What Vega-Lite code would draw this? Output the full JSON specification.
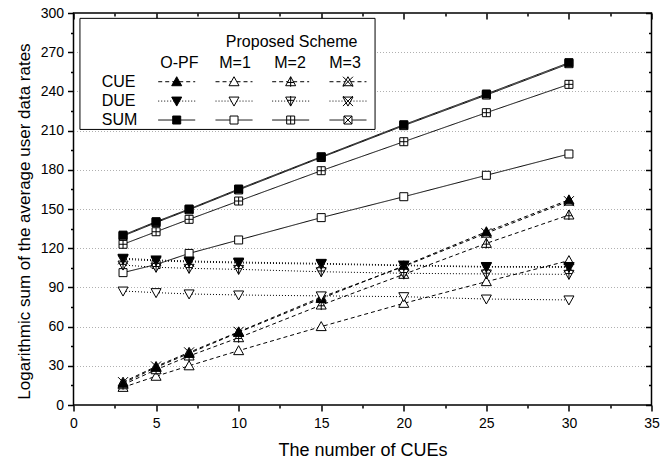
{
  "$schema": "https://vega.github.io/schema/vega-lite/v6.json",
  "width": 578,
  "height": 392,
  "autosize": {"type": "none"},
  "padding": {"left": 73.5, "top": 13, "right": 8.5, "bottom": 61},
  "background": "white",
  "config": {
    "font": "Liberation Sans",
    "view": {"stroke": "black", "strokeWidth": 1.5},
    "axis": {"labelColor": "black", "titleColor": "black", "tickColor": "black", "titleFontWeight": "normal", "labelFontSize": 14, "titleFontSize": 18, "domain": false}
  },
  "datasets": {
    "series": [
      {"x": 3, "type": "SUM", "scheme": "M=1", "series": "SUM M=1", "y": 101.3},
      {"x": 5, "type": "SUM", "scheme": "M=1", "series": "SUM M=1", "y": 107.5},
      {"x": 7, "type": "SUM", "scheme": "M=1", "series": "SUM M=1", "y": 116},
      {"x": 10, "type": "SUM", "scheme": "M=1", "series": "SUM M=1", "y": 126.3},
      {"x": 15, "type": "SUM", "scheme": "M=1", "series": "SUM M=1", "y": 143.4},
      {"x": 20, "type": "SUM", "scheme": "M=1", "series": "SUM M=1", "y": 159.4},
      {"x": 25, "type": "SUM", "scheme": "M=1", "series": "SUM M=1", "y": 175.8},
      {"x": 30, "type": "SUM", "scheme": "M=1", "series": "SUM M=1", "y": 192.1},
      {"x": 3, "type": "SUM", "scheme": "M=2", "series": "SUM M=2", "y": 123},
      {"x": 5, "type": "SUM", "scheme": "M=2", "series": "SUM M=2", "y": 132.6},
      {"x": 7, "type": "SUM", "scheme": "M=2", "series": "SUM M=2", "y": 142.1},
      {"x": 10, "type": "SUM", "scheme": "M=2", "series": "SUM M=2", "y": 156.1},
      {"x": 15, "type": "SUM", "scheme": "M=2", "series": "SUM M=2", "y": 179.3},
      {"x": 20, "type": "SUM", "scheme": "M=2", "series": "SUM M=2", "y": 201.5},
      {"x": 25, "type": "SUM", "scheme": "M=2", "series": "SUM M=2", "y": 223.7},
      {"x": 30, "type": "SUM", "scheme": "M=2", "series": "SUM M=2", "y": 245.4},
      {"x": 3, "type": "SUM", "scheme": "M=3", "series": "SUM M=3", "y": 129.3},
      {"x": 5, "type": "SUM", "scheme": "M=3", "series": "SUM M=3", "y": 139.6},
      {"x": 7, "type": "SUM", "scheme": "M=3", "series": "SUM M=3", "y": 149.4},
      {"x": 10, "type": "SUM", "scheme": "M=3", "series": "SUM M=3", "y": 164.6},
      {"x": 15, "type": "SUM", "scheme": "M=3", "series": "SUM M=3", "y": 189.4},
      {"x": 20, "type": "SUM", "scheme": "M=3", "series": "SUM M=3", "y": 213.8},
      {"x": 25, "type": "SUM", "scheme": "M=3", "series": "SUM M=3", "y": 237.2},
      {"x": 30, "type": "SUM", "scheme": "M=3", "series": "SUM M=3", "y": 261.2},
      {"x": 3, "type": "SUM", "scheme": "O-PF", "series": "SUM O-PF", "y": 130},
      {"x": 5, "type": "SUM", "scheme": "O-PF", "series": "SUM O-PF", "y": 140.3},
      {"x": 7, "type": "SUM", "scheme": "O-PF", "series": "SUM O-PF", "y": 150},
      {"x": 10, "type": "SUM", "scheme": "O-PF", "series": "SUM O-PF", "y": 165.3},
      {"x": 15, "type": "SUM", "scheme": "O-PF", "series": "SUM O-PF", "y": 190},
      {"x": 20, "type": "SUM", "scheme": "O-PF", "series": "SUM O-PF", "y": 214.5},
      {"x": 25, "type": "SUM", "scheme": "O-PF", "series": "SUM O-PF", "y": 238},
      {"x": 30, "type": "SUM", "scheme": "O-PF", "series": "SUM O-PF", "y": 262},
      {"x": 3, "type": "CUE", "scheme": "M=1", "series": "CUE M=1", "y": 13.5},
      {"x": 5, "type": "CUE", "scheme": "M=1", "series": "CUE M=1", "y": 22},
      {"x": 7, "type": "CUE", "scheme": "M=1", "series": "CUE M=1", "y": 30},
      {"x": 10, "type": "CUE", "scheme": "M=1", "series": "CUE M=1", "y": 41.6},
      {"x": 15, "type": "CUE", "scheme": "M=1", "series": "CUE M=1", "y": 60},
      {"x": 20, "type": "CUE", "scheme": "M=1", "series": "CUE M=1", "y": 77.8},
      {"x": 25, "type": "CUE", "scheme": "M=1", "series": "CUE M=1", "y": 94.4},
      {"x": 30, "type": "CUE", "scheme": "M=1", "series": "CUE M=1", "y": 110.5},
      {"x": 3, "type": "CUE", "scheme": "M=2", "series": "CUE M=2", "y": 15.5},
      {"x": 5, "type": "CUE", "scheme": "M=2", "series": "CUE M=2", "y": 27},
      {"x": 7, "type": "CUE", "scheme": "M=2", "series": "CUE M=2", "y": 37.5},
      {"x": 10, "type": "CUE", "scheme": "M=2", "series": "CUE M=2", "y": 51.5},
      {"x": 15, "type": "CUE", "scheme": "M=2", "series": "CUE M=2", "y": 76.5},
      {"x": 20, "type": "CUE", "scheme": "M=2", "series": "CUE M=2", "y": 100},
      {"x": 25, "type": "CUE", "scheme": "M=2", "series": "CUE M=2", "y": 123.7},
      {"x": 30, "type": "CUE", "scheme": "M=2", "series": "CUE M=2", "y": 145.4},
      {"x": 3, "type": "CUE", "scheme": "M=3", "series": "CUE M=3", "y": 17.5},
      {"x": 5, "type": "CUE", "scheme": "M=3", "series": "CUE M=3", "y": 29.5},
      {"x": 7, "type": "CUE", "scheme": "M=3", "series": "CUE M=3", "y": 40.3},
      {"x": 10, "type": "CUE", "scheme": "M=3", "series": "CUE M=3", "y": 56},
      {"x": 15, "type": "CUE", "scheme": "M=3", "series": "CUE M=3", "y": 82.5},
      {"x": 20, "type": "CUE", "scheme": "M=3", "series": "CUE M=3", "y": 106},
      {"x": 25, "type": "CUE", "scheme": "M=3", "series": "CUE M=3", "y": 131.5},
      {"x": 30, "type": "CUE", "scheme": "M=3", "series": "CUE M=3", "y": 156},
      {"x": 3, "type": "CUE", "scheme": "O-PF", "series": "CUE O-PF", "y": 16.6},
      {"x": 5, "type": "CUE", "scheme": "O-PF", "series": "CUE O-PF", "y": 28.8},
      {"x": 7, "type": "CUE", "scheme": "O-PF", "series": "CUE O-PF", "y": 39.5},
      {"x": 10, "type": "CUE", "scheme": "O-PF", "series": "CUE O-PF", "y": 55.6},
      {"x": 15, "type": "CUE", "scheme": "O-PF", "series": "CUE O-PF", "y": 81.5},
      {"x": 20, "type": "CUE", "scheme": "O-PF", "series": "CUE O-PF", "y": 106.5},
      {"x": 25, "type": "CUE", "scheme": "O-PF", "series": "CUE O-PF", "y": 132.6},
      {"x": 30, "type": "CUE", "scheme": "O-PF", "series": "CUE O-PF", "y": 157},
      {"x": 3, "type": "DUE", "scheme": "M=1", "series": "DUE M=1", "y": 87.2},
      {"x": 5, "type": "DUE", "scheme": "M=1", "series": "DUE M=1", "y": 86},
      {"x": 7, "type": "DUE", "scheme": "M=1", "series": "DUE M=1", "y": 85},
      {"x": 10, "type": "DUE", "scheme": "M=1", "series": "DUE M=1", "y": 84.2},
      {"x": 15, "type": "DUE", "scheme": "M=1", "series": "DUE M=1", "y": 83.5},
      {"x": 20, "type": "DUE", "scheme": "M=1", "series": "DUE M=1", "y": 82.9},
      {"x": 25, "type": "DUE", "scheme": "M=1", "series": "DUE M=1", "y": 81.1},
      {"x": 30, "type": "DUE", "scheme": "M=1", "series": "DUE M=1", "y": 80.4},
      {"x": 3, "type": "DUE", "scheme": "M=2", "series": "DUE M=2", "y": 107.1},
      {"x": 5, "type": "DUE", "scheme": "M=2", "series": "DUE M=2", "y": 105.4},
      {"x": 7, "type": "DUE", "scheme": "M=2", "series": "DUE M=2", "y": 104.6},
      {"x": 10, "type": "DUE", "scheme": "M=2", "series": "DUE M=2", "y": 103.8},
      {"x": 15, "type": "DUE", "scheme": "M=2", "series": "DUE M=2", "y": 102},
      {"x": 20, "type": "DUE", "scheme": "M=2", "series": "DUE M=2", "y": 100.8},
      {"x": 25, "type": "DUE", "scheme": "M=2", "series": "DUE M=2", "y": 100.3},
      {"x": 30, "type": "DUE", "scheme": "M=2", "series": "DUE M=2", "y": 100},
      {"x": 3, "type": "DUE", "scheme": "M=3", "series": "DUE M=3", "y": 111.5},
      {"x": 5, "type": "DUE", "scheme": "M=3", "series": "DUE M=3", "y": 110.3},
      {"x": 7, "type": "DUE", "scheme": "M=3", "series": "DUE M=3", "y": 109.5},
      {"x": 10, "type": "DUE", "scheme": "M=3", "series": "DUE M=3", "y": 108.7},
      {"x": 15, "type": "DUE", "scheme": "M=3", "series": "DUE M=3", "y": 107.8},
      {"x": 20, "type": "DUE", "scheme": "M=3", "series": "DUE M=3", "y": 106.6},
      {"x": 25, "type": "DUE", "scheme": "M=3", "series": "DUE M=3", "y": 105.5},
      {"x": 30, "type": "DUE", "scheme": "M=3", "series": "DUE M=3", "y": 105.3},
      {"x": 3, "type": "DUE", "scheme": "O-PF", "series": "DUE O-PF", "y": 112.3},
      {"x": 5, "type": "DUE", "scheme": "O-PF", "series": "DUE O-PF", "y": 111},
      {"x": 7, "type": "DUE", "scheme": "O-PF", "series": "DUE O-PF", "y": 110.2},
      {"x": 10, "type": "DUE", "scheme": "O-PF", "series": "DUE O-PF", "y": 109.4},
      {"x": 15, "type": "DUE", "scheme": "O-PF", "series": "DUE O-PF", "y": 108.4},
      {"x": 20, "type": "DUE", "scheme": "O-PF", "series": "DUE O-PF", "y": 107.1},
      {"x": 25, "type": "DUE", "scheme": "O-PF", "series": "DUE O-PF", "y": 106},
      {"x": 30, "type": "DUE", "scheme": "O-PF", "series": "DUE O-PF", "y": 106}
    ],
    "box": [{"x1": 0.39, "x2": 18.26, "y1": 210.9, "y2": 295.9}],
    "keys": [
      {"type": "CUE", "scheme": "O-PF", "series": "CUE O-PF", "xc": 6.25, "x1": 5.13, "x2": 7.37, "y": 247.4},
      {"type": "CUE", "scheme": "M=1", "series": "CUE M=1", "xc": 9.72, "x1": 8.6, "x2": 10.84, "y": 247.4},
      {"type": "CUE", "scheme": "M=2", "series": "CUE M=2", "xc": 13.15, "x1": 12.03, "x2": 14.27, "y": 247.4},
      {"type": "CUE", "scheme": "M=3", "series": "CUE M=3", "xc": 16.62, "x1": 15.5, "x2": 17.74, "y": 247.4},
      {"type": "DUE", "scheme": "O-PF", "series": "DUE O-PF", "xc": 6.25, "x1": 5.13, "x2": 7.37, "y": 232.6},
      {"type": "DUE", "scheme": "M=1", "series": "DUE M=1", "xc": 9.72, "x1": 8.6, "x2": 10.84, "y": 232.6},
      {"type": "DUE", "scheme": "M=2", "series": "DUE M=2", "xc": 13.15, "x1": 12.03, "x2": 14.27, "y": 232.6},
      {"type": "DUE", "scheme": "M=3", "series": "DUE M=3", "xc": 16.62, "x1": 15.5, "x2": 17.74, "y": 232.6},
      {"type": "SUM", "scheme": "O-PF", "series": "SUM O-PF", "xc": 6.25, "x1": 5.13, "x2": 7.37, "y": 218.1},
      {"type": "SUM", "scheme": "M=1", "series": "SUM M=1", "xc": 9.72, "x1": 8.6, "x2": 10.84, "y": 218.1},
      {"type": "SUM", "scheme": "M=2", "series": "SUM M=2", "xc": 13.15, "x1": 12.03, "x2": 14.27, "y": 218.1},
      {"type": "SUM", "scheme": "M=3", "series": "SUM M=3", "xc": 16.62, "x1": 15.5, "x2": 17.74, "y": 218.1}
    ],
    "rowlabels": [
      {"label": "CUE", "lx": 1.71, "ly": 247.4},
      {"label": "DUE", "lx": 1.71, "ly": 232.6},
      {"label": "SUM", "lx": 1.71, "ly": 218.1}
    ],
    "headers": [
      {"label": "Proposed Scheme", "lx": 13.21, "ly": 278},
      {"label": "O-PF", "lx": 6.41, "ly": 261.7},
      {"label": "M=1", "lx": 9.78, "ly": 261.7},
      {"label": "M=2", "lx": 13.11, "ly": 261.7},
      {"label": "M=3", "lx": 16.44, "ly": 261.7}
    ]
  },
  "layer": [
    {
      "data": {"name": "series"},
      "mark": {"type": "line", "color": "black", "strokeWidth": 1},
      "encoding": {
        "x": {"field": "x", "type": "quantitative", "scale": {"domain": [0, 35], "nice": false, "zero": false},
          "axis": {"orient": "bottom", "title": "The number of CUEs", "values": [0, 2.5, 5, 7.5, 10, 12.5, 15, 17.5, 20, 22.5, 25, 27.5, 30, 32.5, 35],
            "labelExpr": "datum.value % 5 == 0 ? datum.label : ''", "labelFlush": false, "labelOverlap": false, "labelBound": false,
            "tickSize": {"condition": {"test": "datum.value % 5 != 0", "value": 3}, "value": 6}, "tickWidth": 1.5,
            "grid": false, "labelPadding": 5, "titlePadding": 11, "titleFontSize": 18}},
        "y": {"field": "y", "type": "quantitative", "scale": {"domain": [0, 300], "nice": false, "zero": false},
          "axis": {"orient": "left", "title": "Logarithmic sum of the average user data rates", "values": [0, 15, 30, 45, 60, 75, 90, 105, 120, 135, 150, 165, 180, 195, 210, 225, 240, 255, 270, 285, 300],
            "labelExpr": "datum.value % 30 == 0 ? datum.label : ''", "labelOverlap": false, "labelBound": false, "labelFlush": false,
            "tickSize": {"condition": {"test": "datum.value % 30 != 0", "value": 3}, "value": 6}, "tickWidth": 1.5,
            "grid": true, "gridDash": [1, 2], "gridColor": "#b0b0b0", "gridWidth": 1,
            "gridOpacity": {"condition": {"test": "datum.value % 30 != 0 || datum.value == 0 || datum.value == 300", "value": 0}, "value": 1},
            "labelPadding": 4, "titlePadding": 7, "titleFontSize": 17, "titleY": 208}},
        "detail": {"field": "series"},
        "strokeDash": {"field": "type", "type": "nominal", "scale": {"domain": ["CUE", "DUE", "SUM"], "range": [[4, 3], [1, 2], [1, 0]]}, "legend": null}
      }
    },
    {
      "data": {"name": "series"},
      "mark": {"type": "point", "filled": false, "stroke": "black", "strokeWidth": 1, "size": 100, "opacity": 1},
      "encoding": {
        "x": {"field": "x", "type": "quantitative", "scale": {"domain": [0, 35], "nice": false, "zero": false}, "axis": null},
        "y": {"field": "y", "type": "quantitative", "scale": {"domain": [0, 300], "nice": false, "zero": false}, "axis": null},
        "shape": {"field": "series", "type": "nominal", "legend": null, "scale": {
          "domain": ["CUE O-PF", "CUE M=1", "CUE M=2", "CUE M=3", "DUE O-PF", "DUE M=1", "DUE M=2", "DUE M=3", "SUM O-PF", "SUM M=1", "SUM M=2", "SUM M=3"],
          "range": [
            "M0,-1L1,0.8L-1,0.8Z",
            "M0,-1L1,0.8L-1,0.8Z",
            "M0,-1L1,0.8L-1,0.8Z M0,-1V1 M-0.65,0.15H0.65",
            "M0,-1L1,0.8L-1,0.8Z M-1,-1L1,1 M1,-1L-1,1",
            "M-1,-0.8H1L0,1Z",
            "M-1,-0.8H1L0,1Z",
            "M-1,-0.8H1L0,1Z M0,-1V1 M-0.65,-0.15H0.65",
            "M-1,-0.8H1L0,1Z M-1,-1L1,1 M1,-1L-1,1",
            "M-0.8,-0.8H0.8V0.8H-0.8Z",
            "M-0.8,-0.8H0.8V0.8H-0.8Z",
            "M-0.8,-0.8H0.8V0.8H-0.8Z M0,-0.8V0.8 M-0.8,0H0.8",
            "M-0.8,-0.8H0.8V0.8H-0.8Z M-0.8,-0.8L0.8,0.8 M0.8,-0.8L-0.8,0.8"
          ]}},
        "fill": {"field": "scheme", "type": "nominal", "legend": null, "scale": {"domain": ["O-PF", "M=1", "M=2", "M=3"], "range": ["black", "white", "white", "white"]}}
      }
    },
    {
      "data": {"name": "box"},
      "mark": {"type": "rect", "fill": "white", "stroke": "black", "strokeWidth": 1},
      "encoding": {
        "x": {"field": "x1", "type": "quantitative", "scale": {"domain": [0, 35], "nice": false, "zero": false},
          "axis": {"orient": "top", "title": null, "labels": false, "grid": false, "values": [0, 2.5, 5, 7.5, 10, 12.5, 15, 17.5, 20, 22.5, 25, 27.5, 30, 32.5, 35],
            "tickSize": {"condition": {"test": "datum.value % 5 != 0", "value": -3}, "value": -6}, "tickWidth": 1.5}},
        "x2": {"field": "x2"},
        "y": {"field": "y1", "type": "quantitative", "scale": {"domain": [0, 300], "nice": false, "zero": false},
          "axis": {"orient": "right", "title": null, "labels": false, "grid": false, "values": [0, 15, 30, 45, 60, 75, 90, 105, 120, 135, 150, 165, 180, 195, 210, 225, 240, 255, 270, 285, 300],
            "tickSize": {"condition": {"test": "datum.value % 30 != 0", "value": -3}, "value": -6}, "tickWidth": 1.5}},
        "y2": {"field": "y2"}
      }
    },
    {
      "data": {"name": "keys"},
      "mark": {"type": "rule", "color": "black", "strokeWidth": 1},
      "encoding": {
        "x": {"field": "x1", "type": "quantitative", "scale": {"domain": [0, 35], "nice": false, "zero": false}, "axis": null},
        "x2": {"field": "x2"},
        "y": {"field": "y", "type": "quantitative", "scale": {"domain": [0, 300], "nice": false, "zero": false}, "axis": null},
        "strokeDash": {"field": "type", "type": "nominal", "legend": null}
      }
    },
    {
      "data": {"name": "keys"},
      "mark": {"type": "point", "filled": false, "stroke": "black", "strokeWidth": 1, "size": 100, "opacity": 1},
      "encoding": {
        "x": {"field": "xc", "type": "quantitative", "scale": {"domain": [0, 35], "nice": false, "zero": false}, "axis": null},
        "y": {"field": "y", "type": "quantitative", "scale": {"domain": [0, 300], "nice": false, "zero": false}, "axis": null},
        "shape": {"field": "series", "type": "nominal", "legend": null},
        "fill": {"field": "scheme", "type": "nominal", "legend": null}
      }
    },
    {
      "data": {"name": "rowlabels"},
      "mark": {"type": "text", "align": "left", "baseline": "middle", "fontSize": 16, "color": "black"},
      "encoding": {
        "x": {"field": "lx", "type": "quantitative", "scale": {"domain": [0, 35], "nice": false, "zero": false}, "axis": null},
        "y": {"field": "ly", "type": "quantitative", "scale": {"domain": [0, 300], "nice": false, "zero": false}, "axis": null},
        "text": {"field": "label"}
      }
    },
    {
      "data": {"name": "headers"},
      "mark": {"type": "text", "align": "center", "baseline": "middle", "fontSize": 16, "color": "black"},
      "encoding": {
        "x": {"field": "lx", "type": "quantitative", "scale": {"domain": [0, 35], "nice": false, "zero": false}, "axis": null},
        "y": {"field": "ly", "type": "quantitative", "scale": {"domain": [0, 300], "nice": false, "zero": false}, "axis": null},
        "text": {"field": "label"}
      }
    }
  ],
  "resolve": {"axis": {"x": "independent", "y": "independent"}}
}
